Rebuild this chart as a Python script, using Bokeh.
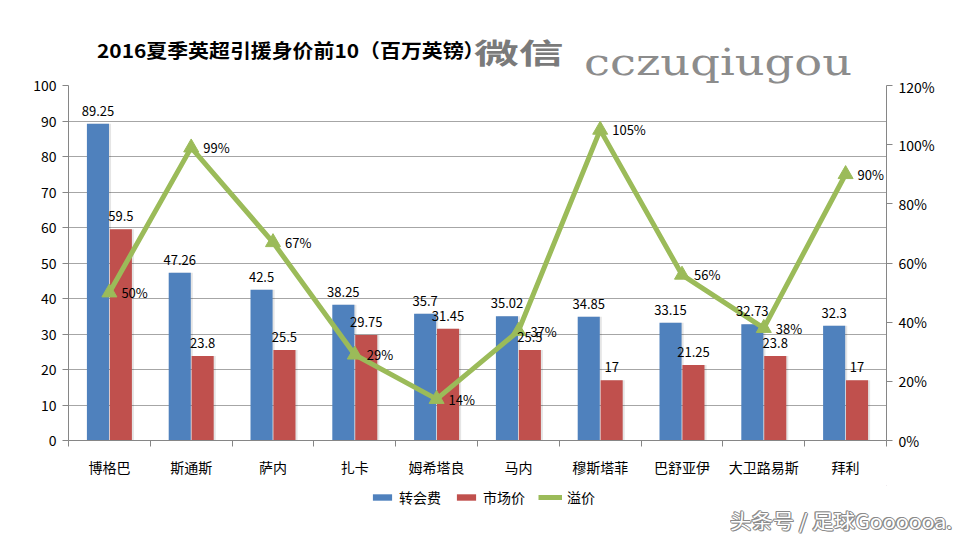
from bokeh.plotting import figure
from bokeh.layouts import column
from bokeh.models import (ColumnDataSource, FactorRange, Range1d, LinearAxis, CategoricalAxis, Div,
                          Legend, LegendItem, SingleIntervalTicker, FixedTicker, CustomJSTickFormatter)
from bokeh.transform import dodge
from bokeh.core.properties import value
from bokeh.embed import file_html
from bokeh.resources import INLINE

players = ["博格巴", "斯通斯", "萨内", "扎卡", "姆希塔良", "马内", "穆斯塔菲", "巴舒亚伊", "大卫路易斯", "拜利"]
fee = [89.25, 47.26, 42.5, 38.25, 35.7, 35.02, 34.85, 33.15, 32.73, 32.3]
market = [59.5, 23.8, 25.5, 29.75, 31.45, 25.5, 17, 21.25, 23.8, 17]
premium = [50, 99, 67, 29, 14, 37, 105, 56, 38, 90]

fee_lbl = ["89.25", "47.26", "42.5", "38.25", "35.7", "35.02", "34.85", "33.15", "32.73", "32.3"]
mkt_lbl = ["59.5", "23.8", "25.5", "29.75", "31.45", "25.5", "17", "21.25", "23.8", "17"]
pct_lbl = [f"{v}%" for v in premium]
series_names = ["转会费", "市场价", "溢价"]

title_text = "2016夏季英超引援身价前10（百万英镑）"
wm_cn = "微信"
wm_en = "cczuqiugou"
wm_bottom = "头条号 / 足球Goooooa."

FONT = "Noto Sans CJK SC"
BLUE = "#4F81BD"
RED = "#C0504D"
GREEN = "#9BBB59"
GRID = "#A6A6A6"
AXIS = "#868686"

W = 960
TOP_H = 76
MAIN_TOP = 85 - TOP_H
MAIN_BOTTOM = 45
LEG_H = 22
BOT_H = 540 - 85 - 355 - MAIN_BOTTOM - LEG_H


def span(text, left, top, css):
    return (f'<span style="position:absolute;left:{left}px;top:{top}px;white-space:nowrap;'
            f'line-height:1;transform-origin:left top;{css}">{text}</span>')


header_html = (
    f'<div style="position:relative;width:{W}px;height:{TOP_H}px;overflow:visible;">'
    + span(title_text, 97, 40, f"font-family:'{FONT}';font-size:19px;font-weight:bold;color:#000;"
                              "transform:scaleX(1.1);")
    + span(wm_cn, 474, 38, f"font-family:'{FONT}';font-size:28px;font-weight:bold;color:#7a7a7a;"
                          "transform:scaleX(1.6);")
    + span(wm_en, 584, 43, "font-family:'DejaVu Serif';font-size:38px;color:#8c8c8c;"
                           "transform:scaleX(1.22);")
    + '</div>'
)
header = Div(text=header_html, width=W, height=TOP_H, margin=0, styles={"overflow": "visible"})

footer_html = (
    f'<div style="position:relative;width:{W}px;height:{BOT_H}px;">'
    + span(wm_bottom, 730, 4, f"font-family:'{FONT}';font-size:20px;color:#ffffff;"
                              "transform:scaleX(1.07);"
                              "text-shadow:1px 0 #8a8a8a,-1px 0 #8a8a8a,0 1px #8a8a8a,0 -1px #8a8a8a,"
                              "1px 1px #8a8a8a,-1px -1px #8a8a8a;")
    + '</div>'
)
footer = Div(text=footer_html, width=W, height=BOT_H, margin=0)

# ---------------- main chart ----------------
src = ColumnDataSource(dict(p=players, fee=fee, market=market, premium=premium,
                            fl=fee_lbl, ml=mkt_lbl, pl=pct_lbl))

p = figure(frame_width=818, frame_height=355, x_range=FactorRange(*players), y_range=Range1d(0, 100),
           output_backend="svg", toolbar_location=None, x_axis_location=None,
           min_border_left=68, min_border_right=74, min_border_top=MAIN_TOP,
           min_border_bottom=MAIN_BOTTOM)
p.outline_line_color = None
p.border_fill_color = None
p.extra_y_ranges = {"pct": Range1d(0, 120)}

# bar shadows
p.vbar(x=dodge("p", -0.14 + 0.025, range=p.x_range), top="fee", width=0.27, source=src,
       fill_color="#000000", fill_alpha=0.10, line_color=None)
p.vbar(x=dodge("p", 0.14 + 0.025, range=p.x_range), top="market", width=0.27, source=src,
       fill_color="#000000", fill_alpha=0.10, line_color=None)

p.vbar(x=dodge("p", -0.14, range=p.x_range), top="fee", width=0.27, source=src,
       fill_color=BLUE, line_color=None)
p.vbar(x=dodge("p", 0.14, range=p.x_range), top="market", width=0.27, source=src,
       fill_color=RED, line_color=None)

p.line(x="p", y="premium", source=src, y_range_name="pct", line_color=GREEN, line_width=5,
       line_join="round")
p.scatter(x="p", y="premium", source=src, y_range_name="pct", marker="triangle", size=15,
          fill_color=GREEN, line_color=GREEN)

p.text(x=dodge("p", -0.14, range=p.x_range), y="fee", text="fl", source=src, y_offset=-8,
       text_align="center", text_baseline="bottom", text_font=value(FONT), text_font_size="13px",
       text_color="#000000")
p.text(x=dodge("p", 0.14, range=p.x_range), y="market", text="ml", source=src, y_offset=-8,
       text_align="center", text_baseline="bottom", text_font=value(FONT), text_font_size="13px",
       text_color="#000000")
p.text(x="p", y="premium", text="pl", source=src, y_range_name="pct", x_offset=12,
       text_align="left", text_baseline="middle", text_font=value(FONT), text_font_size="13px",
       text_color="#000000")

# x axes: boundary tick marks, then category labels
tick_ax = LinearAxis(ticker=FixedTicker(ticks=list(range(len(players) + 1))),
                     formatter=CustomJSTickFormatter(code="return '';"),
                     major_label_standoff=0,
                     axis_line_color=AXIS, major_tick_line_color=AXIS,
                     major_tick_out=6, major_tick_in=0, minor_tick_line_color=None)
p.add_layout(tick_ax, "below")
cat_ax = CategoricalAxis(axis_line_color=None, major_tick_line_color=None,
                         major_label_text_font=FONT, major_label_text_font_size="14px",
                         major_label_text_color="#000000", major_label_standoff=4)
p.add_layout(cat_ax, "below")

# y axes
p.yaxis.ticker = SingleIntervalTicker(interval=10)
ax2 = LinearAxis(y_range_name="pct", ticker=SingleIntervalTicker(interval=20),
                 formatter=CustomJSTickFormatter(code="return tick + '%';"))
p.add_layout(ax2, "right")

for ax in [p.yaxis[0], ax2]:
    ax.axis_line_color = AXIS
    ax.major_tick_line_color = AXIS
    ax.major_tick_out = 6
    ax.major_tick_in = 0
    ax.minor_tick_line_color = None
    ax.major_label_text_font = FONT
    ax.major_label_text_font_size = "14px"
    ax.major_label_text_color = "#000000"
    ax.major_label_standoff = 6

p.xgrid.grid_line_color = None
p.ygrid.grid_line_color = GRID

# ---------------- legend strip ----------------
lg = figure(width=W, height=LEG_H, x_range=Range1d(0, 1), y_range=Range1d(0, 1),
            output_backend="svg", toolbar_location=None, min_border=0,
            x_axis_location=None, y_axis_location=None)
lg.outline_line_color = None
lg.border_fill_color = None
lg.xgrid.visible = False
lg.ygrid.visible = False
# legend swatches (placed far outside the visible range of this strip)
lb1 = lg.vbar(x=[50], bottom=[50], top=[51], width=1, fill_color=BLUE, line_color=None)
lb2 = lg.vbar(x=[50], bottom=[50], top=[51], width=1, fill_color=RED, line_color=None)
ll = lg.line(x=[50, 51], y=[50, 50], line_color=GREEN, line_width=5)
lm = lg.scatter(x=[50], y=[50], marker="triangle", size=9, fill_color=GREEN, line_color=GREEN)
legend = Legend(items=[LegendItem(label=series_names[0], renderers=[lb1]),
                       LegendItem(label=series_names[1], renderers=[lb2]),
                       LegendItem(label=series_names[2], renderers=[ll, lm])],
                orientation="horizontal", location=(302, 0),
                label_text_font=FONT, label_text_font_size="14px", label_text_color="#000000",
                glyph_width=24, glyph_height=8, spacing=13, label_standoff=5,
                border_line_color=None, background_fill_alpha=0, margin=0, padding=2)
lg.add_layout(legend)

layout = column(header, p, lg, footer, spacing=0)
open("out.html", "w").write(file_html(layout, INLINE))
